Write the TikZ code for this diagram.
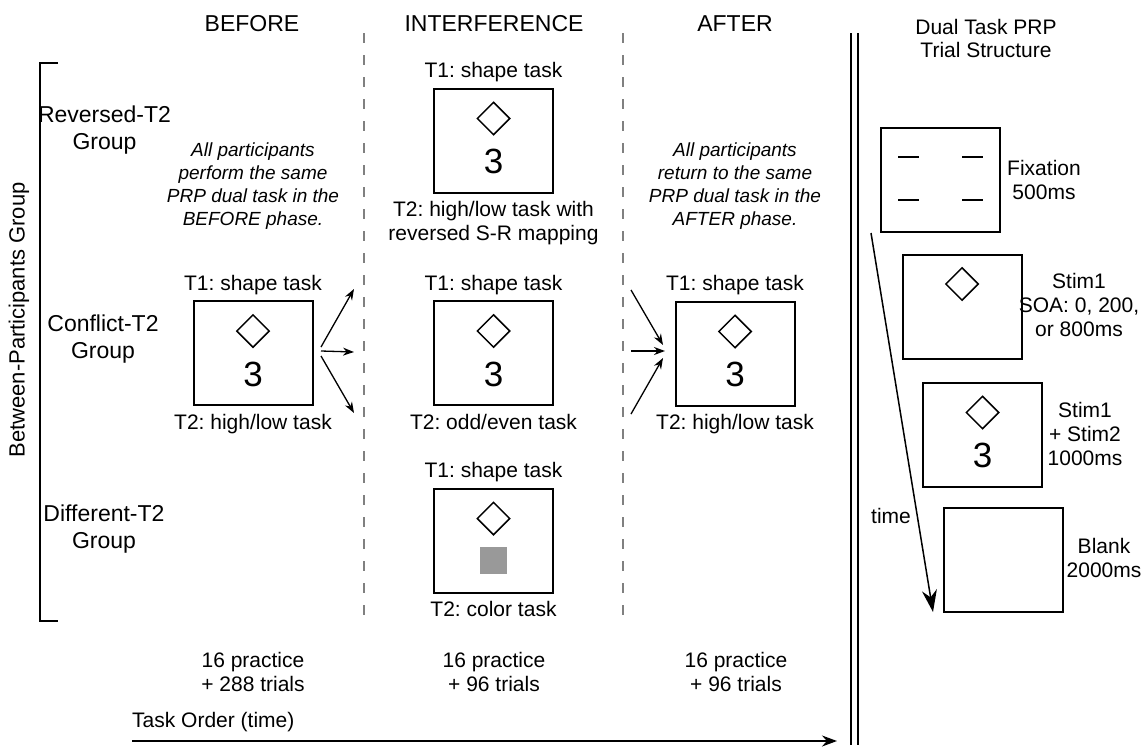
\documentclass[tikz,border=0pt]{standalone}
\usepackage{fontspec}
\setmainfont{Liberation Sans}
\usetikzlibrary{calc,arrows.meta,shapes.geometric}
\frenchspacing
\begin{document}
\begin{tikzpicture}[x=1pt,y=-1pt,
  txt/.style={font=\fontsize{21}{24}\selectfont, inner sep=0, align=center},
  head/.style={font=\fontsize{23}{27}\selectfont, inner sep=0, align=center},
  grp/.style={font=\fontsize{23}{27}\selectfont, inner sep=0, align=center},
  itl/.style={font=\fontsize{19}{23}\selectfont\itshape, inner sep=0, align=center},
  screen/.style={draw, line width=2pt, minimum width=119pt, minimum height=104pt, inner sep=0},
  dia/.style={draw, diamond, line width=1.5pt, minimum width=33pt, minimum height=33pt, inner sep=0},
  num/.style={font=\fontsize{35}{35}\selectfont, inner sep=0},
  arr/.style={line width=1.3pt, -{Stealth[length=11pt,width=8pt]}},
  sepline/.style={draw=gray, line width=2pt, dash pattern=on 10pt off 12pt},
  dbl/.style={line width=1.8pt},
  fixmark/.style={line width=2.2pt}
]
\useasboundingbox (0,0) rectangle (1143,747);

% headers
\node[head] (hBefore) at (252,24) {BEFORE};
\node[head] (hInter) at (494,24) {INTERFERENCE};
\node[head] (hAfter) at (735,24) {AFTER};
\node[txt, font=\fontsize{21}{23}\selectfont] (hDual) at (986,38) {Dual Task PRP\\Trial Structure};

% separators
\coordinate (s1t) at (364,33); \coordinate (s1b) at (364,622);
\coordinate (s2t) at (623,33); \coordinate (s2b) at (623,622);
\draw[sepline] (s1t) -- (s1b);
\draw[sepline] (s2t) -- (s2b);
\coordinate (d1t) at (851,33); \coordinate (d1b) at (851,745);
\coordinate (d2t) at (858,33); \coordinate (d2b) at (858,745);
\draw[dbl] (d1t) -- (d1b);
\draw[dbl] (d2t) -- (d2b);

% bracket and group labels
\coordinate (brA) at (58,63); \coordinate (brB) at (40,63);
\coordinate (brC) at (40,621); \coordinate (brD) at (58,621);
\draw[line width=2pt] (brA) -- (brB) -- (brC) -- (brD);
\node[grp, font=\fontsize{22}{26}\selectfont, rotate=90] (bpg) at (19,320) {Between-Participants Group};
\node[grp] (gRev) at (104.5,130) {Reversed-T2\\Group};
\node[grp] (gCon) at (103,339) {Conflict-T2\\Group};
\node[grp] (gDif) at (104,529) {Different-T2\\Group};

% italic notes
\node[itl, anchor=north] (noteB) at (253,143) {All participants\\perform the same\\PRP dual task in the\\BEFORE phase.};
\node[itl, anchor=north] (noteA) at (735,143) {All participants\\return to the same\\PRP dual task in the\\AFTER phase.};

% BEFORE box
\node[screen] (bBox) at (253,353) {};
\node[dia] (bDia) at ($(bBox.center)+(0,-22)$) {};
\node[num] (bNum) at ($(bBox.center)+(0,21)$) {3};
\node[txt, anchor=base] (bT1) at ($(bBox.north)+(0,-10)$) {T1: shape task};
\node[txt, anchor=base] (bT2) at ($(bBox.south)+(0,23)$) {T2: high/low task};

% Reversed box
\node[screen] (rBox) at (493.5,140.5) {};
\node[dia] (rDia) at ($(rBox.center)+(0,-22)$) {};
\node[num] (rNum) at ($(rBox.center)+(0,21)$) {3};
\node[txt, anchor=base] (rT1) at ($(rBox.north)+(0,-10)$) {T1: shape task};
\node[txt, anchor=north] (rT2) at ($(rBox.south)+(0,8)$) {T2: high/low task with\\reversed S-R mapping};

% Conflict box
\node[screen] (cBox) at (493.5,353) {};
\node[dia] (cDia) at ($(cBox.center)+(0,-22)$) {};
\node[num] (cNum) at ($(cBox.center)+(0,21)$) {3};
\node[txt, anchor=base] (cT1) at ($(cBox.north)+(0,-10)$) {T1: shape task};
\node[txt, anchor=base] (cT2) at ($(cBox.south)+(0,23)$) {T2: odd/even task};

% Different box
\node[screen] (dBox) at (493.5,540.5) {};
\node[dia] (dDia) at ($(dBox.center)+(0,-22)$) {};
\node[fill=black!40, minimum size=27pt, inner sep=0] (dSq) at ($(dBox.center)+(0,20)$) {};
\node[txt, anchor=base] (dT1) at ($(dBox.north)+(0,-10)$) {T1: shape task};
\node[txt, anchor=base] (dT2) at ($(dBox.south)+(0,23)$) {T2: color task};

% AFTER box
\node[screen] (aBox) at (735,353.5) {};
\node[dia] (aDia) at ($(aBox.center)+(0,-22)$) {};
\node[num] (aNum) at ($(aBox.center)+(0,21)$) {3};
\node[txt, anchor=base] (aT1) at ($(aBox.north)+(0,-10)$) {T1: shape task};
\node[txt, anchor=base] (aT2) at ($(aBox.south)+(0,23)$) {T2: high/low task};

% fan arrows out of BEFORE
\coordinate (f1s) at (321,347); \coordinate (f2s) at (321,351); \coordinate (f3s) at (321,356);
\coordinate (f1e) at (354,289); \coordinate (f2e) at (354,352); \coordinate (f3e) at (354,413);
\draw[arr] (f1s) -- (f1e);
\draw[arr] (f2s) -- (f2e);
\draw[arr] (f3s) -- (f3e);

% fan arrows into AFTER
\coordinate (g1s) at (631,290); \coordinate (g2s) at (631,351); \coordinate (g3s) at (631,414);
\coordinate (g1e) at (663,345); \coordinate (g2e) at (665,351); \coordinate (g3e) at (663,358);
\draw[arr] (g1s) -- (g1e);
\draw[arr] (g2s) -- (g2e);
\draw[arr] (g3s) -- (g3e);

% trial counts
\node[txt, font=\fontsize{21}{23.5}\selectfont] (nB) at (253,672) {16 practice\\+ 288 trials};
\node[txt, font=\fontsize{21}{23.5}\selectfont] (nI) at (494,672) {16 practice\\+ 96 trials};
\node[txt, font=\fontsize{21}{23.5}\selectfont] (nA) at (736,672) {16 practice\\+ 96 trials};

% task order arrow
\node[txt, anchor=west] (tOrd) at (132,722) {Task Order (time)};
\coordinate (toS) at (132,741); \coordinate (toE) at (837,741);
\draw[line width=1.6pt, -{Stealth[length=15pt,width=11pt]}] (toS) -- (toE);

% right panel: trial structure
\node[screen] (fixBox) at (940.5,180) {};
\coordinate (fm1a) at ($(fixBox.center)+(-42.5,-23)$); \coordinate (fm1b) at ($(fixBox.center)+(-21.5,-23)$);
\coordinate (fm2a) at ($(fixBox.center)+(21.5,-23)$); \coordinate (fm2b) at ($(fixBox.center)+(42.5,-23)$);
\coordinate (fm3a) at ($(fixBox.center)+(-42.5,20)$); \coordinate (fm3b) at ($(fixBox.center)+(-21.5,20)$);
\coordinate (fm4a) at ($(fixBox.center)+(21.5,20)$); \coordinate (fm4b) at ($(fixBox.center)+(42.5,20)$);
\draw[fixmark] (fm1a) -- (fm1b);
\draw[fixmark] (fm2a) -- (fm2b);
\draw[fixmark] (fm3a) -- (fm3b);
\draw[fixmark] (fm4a) -- (fm4b);
\node[txt] (fixT) at (1044,180) {Fixation\\500ms};

\node[screen] (s1Box) at (962,307) {};
\node[dia] (s1Dia) at ($(s1Box.center)+(0,-23)$) {};
\node[txt] (s1T) at (1079,305) {Stim1\\SOA: 0, 200,\\or 800ms};

\node[screen] (s2Box) at (982.5,434.5) {};
\node[dia] (s2Dia) at ($(s2Box.center)+(0,-22)$) {};
\node[num] (s2Num) at ($(s2Box.center)+(0,21)$) {3};
\node[txt] (s2T) at (1085,434) {Stim1\\+ Stim2\\1000ms};

\node[screen] (blBox) at (1003.5,560) {};
\node[txt] (blT) at (1104,558) {Blank\\2000ms};

\coordinate (tmS) at (871,233); \coordinate (tmE) at (933,612);
\draw[line width=1.5pt, -{Stealth[length=22pt,width=15pt]}] (tmS) -- (tmE);
\node[txt] (tmT) at (891,516) {time};
\end{tikzpicture}
\end{document}
